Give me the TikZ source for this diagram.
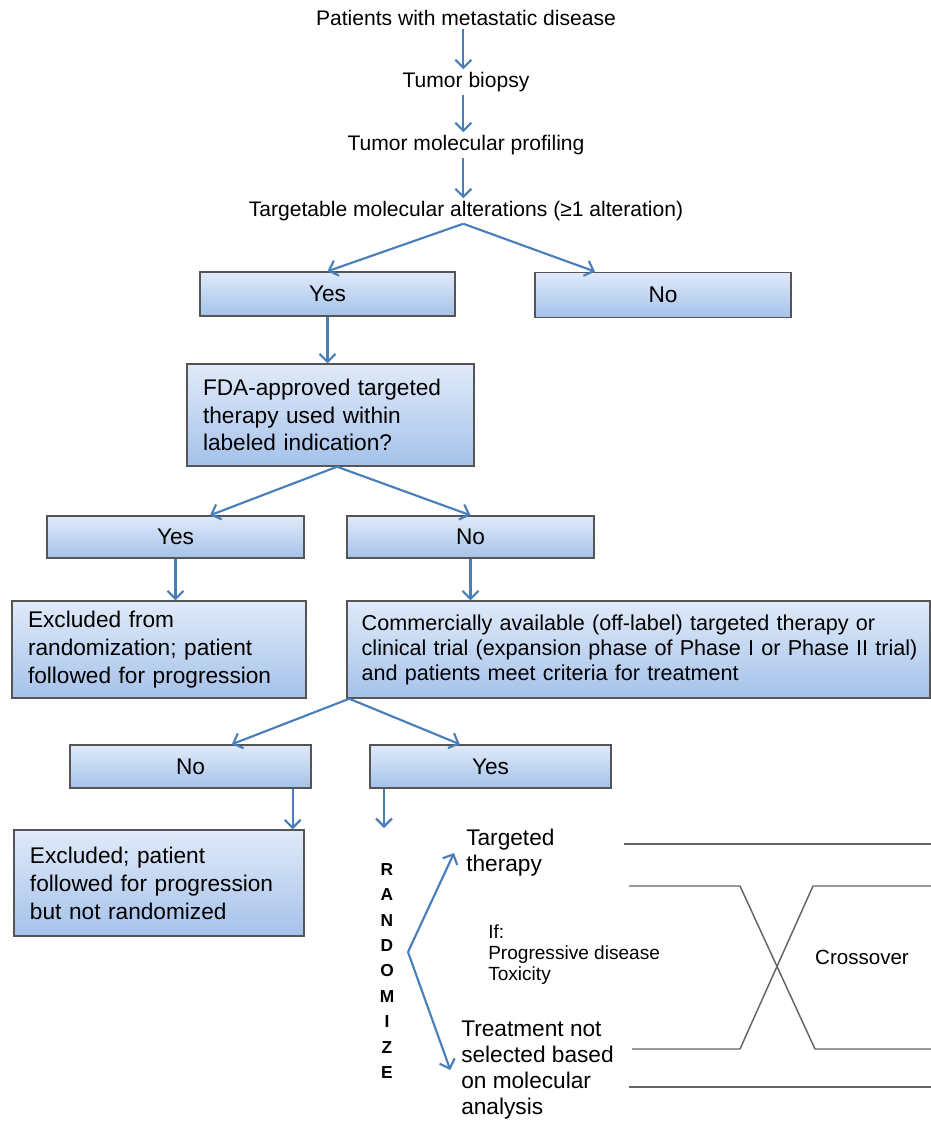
\documentclass[tikz,border=0pt]{standalone}
\usepackage{fontspec}
\setmainfont{Liberation Sans}
\usetikzlibrary{arrows.meta,calc}
\definecolor{arrowblue}{RGB}{74,126,187}
\definecolor{boxtop}{RGB}{224,234,249}
\definecolor{boxbot}{RGB}{165,194,234}
\definecolor{boxedge}{RGB}{85,85,85}
\definecolor{linegray}{RGB}{100,100,100}
\begin{document}
\begin{tikzpicture}[x=0.75pt,y=-0.75pt,
  arr/.style={draw=arrowblue, line width=1.6pt, -{Straight Barb[length=6pt,width=12pt,line width=1.6pt]}},
  box/.style={draw=boxedge, line width=1.1pt, top color=boxtop, bottom color=boxbot, inner sep=0pt, font=\fontsize{17}{20.6}\selectfont},
  lbox/.style={box, align=left, inner xsep=12pt},
  ttxt/.style={font=\fontsize{15.8}{19}\selectfont, inner sep=2pt},
  cross/.style={draw=linegray, line width=1.1pt},
]
\useasboundingbox (0,0) rectangle (931,1122);
% top texts
\node[ttxt] (t1) at (466,18) {Patients with metastatic disease};
\node[ttxt] (t2) at (466,82) {Tumor biopsy};
\node[ttxt] (t3) at (466,145) {Tumor molecular profiling};
\node[ttxt] (t4) at (466,211) {Targetable molecular alterations (≥1 alteration)};
% boxes
\node[box, minimum width=191.25pt, minimum height=33pt] (yes1) at (327.5,294) {Yes};
\node[box, minimum width=192pt, minimum height=34pt] (no1) at (663,295) {No};
\node[lbox, text width=191.25pt, minimum height=76.5pt] (fda) at (330.5,415) {FDA-approved targeted\\therapy used within\\labeled indication?};
\node[box, minimum width=192.75pt, minimum height=31.5pt] (yes2) at (175.5,537) {Yes};
\node[box, minimum width=185.25pt, minimum height=31.5pt] (no2) at (470.5,537) {No};
\node[lbox, text width=196.5pt, minimum height=72.75pt, font=\fontsize{17}{21}\selectfont] (excl1) at (159,649.5) {Excluded from\\randomization; patient\\followed for progression};
\node[lbox, inner xsep=11pt, text width=415.25pt, minimum height=72.75pt, font=\fontsize{16.2}{18.8}\selectfont] (comm) at (638.5,649.5) {\mbox{Commercially available (off-label) targeted therapy or}\\\mbox{clinical trial (expansion phase of Phase I or Phase II trial)}\\\mbox{and patients meet criteria for treatment}};
\node[box, minimum width=180.75pt, minimum height=32.25pt] (no3) at (190.5,766.5) {No};
\node[box, minimum width=180.75pt, minimum height=32.25pt] (yes3) at (490.5,766.5) {Yes};
\node[lbox, text width=193.5pt, minimum height=79.5pt, font=\fontsize{17}{21}\selectfont] (excl2) at (159,883) {Excluded; patient\\followed for progression\\but not randomized};
% randomize
\node[font=\fontsize{13}{19.1}\selectfont\bfseries, align=center, inner sep=0pt] (rand) at (387,971) {R\\A\\N\\D\\O\\M\\I\\Z\\E};
\coordinate (rtop) at (384,828);
\coordinate (fk) at (408,952);
\node[anchor=west, align=left, inner sep=0pt, font=\fontsize{17}{19.5}\selectfont] (tt) at (466,853) {Targeted\\therapy};
\node[anchor=west, align=left, inner sep=0pt, font=\fontsize{17}{19.5}\selectfont] (tn) at (461,1070) {Treatment not\\selected based\\on molecular\\analysis};
\node[anchor=north west, align=left, inner sep=0pt, font=\fontsize{14.3}{15.75}\selectfont] (iftxt) at (488,924) {If:\\Progressive disease\\Toxicity};
\node[font=\fontsize{15.4}{18}\selectfont] (co) at (862,957) {Crossover};
% crossover lines
\draw[cross] (624,844) -- (931,844);
\draw[cross] (629,886) -- (740,886) -- (815,1049) -- (931,1049);
\draw[cross] (632,1049) -- (740,1049) -- (813,886) -- (931,886);
\draw[cross] (629,1087) -- (931,1087);
% arrows
\draw[arr] ([xshift=-2pt]t1.south) -- ([xshift=-2pt]t2.north);
\draw[arr] ([xshift=-2pt]t2.south) -- ([xshift=-2pt]t3.north);
\draw[arr] ([xshift=-2pt]t3.south) -- ([xshift=-2pt]t4.north);
\draw[arr] ([xshift=-2pt]t4.south) -- (yes1.north);
\draw[arr] ([xshift=-2pt]t4.south) -- ([xshift=-51pt]no1.north);
\draw[arr] (yes1.south) -- (yes1.south |- fda.north);
\draw[arr] ([xshift=4.9pt]fda.south) -- ([xshift=25.9pt]yes2.north);
\draw[arr] ([xshift=4.9pt]fda.south) -- (no2.north);
\draw[arr] (yes2.south) -- (yes2.south |- excl1.north);
\draw[arr] (no2.south) -- (no2.south |- comm.north);
\draw[arr] ([xshift=2.25pt]comm.south west) -- ([xshift=31pt]no3.north);
\draw[arr] ([xshift=2.25pt]comm.south west) -- ([xshift=-23pt]yes3.north);
\draw[arr] ([xshift=-14.25pt]no3.south east) -- ([xshift=-14.25pt]no3.south east |- excl2.north);
\draw[arr] (yes3.south west -| rtop) -- (rtop);
\draw[arr] (fk) -- ([xshift=-9pt]tt.west);
\draw[arr] (fk) -- ([xshift=-8pt]tn.west);
\end{tikzpicture}
\end{document}
